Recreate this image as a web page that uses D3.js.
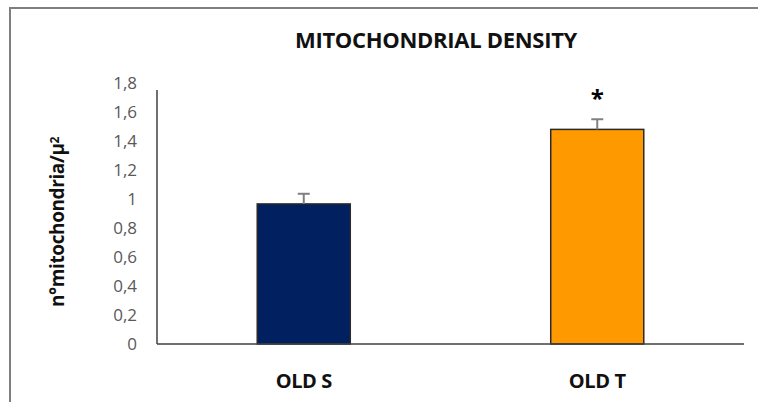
<!DOCTYPE html>
<html>
<head>
<meta charset="utf-8">
<style>
  body { margin: 0; background: #fff; }
  svg text { font-family: "Open Sans", "DejaVu Sans", sans-serif; }
</style>
</head>
<body>
<svg id="chart"></svg>
<script src="https://cdn.jsdelivr.net/npm/d3@7"></script>
<script>
// values
var groups = ["OLD S", "OLD T"];
var means = [0.966, 1.48];
var errors = [0.07, 0.07];
var colors = ["#002060", "#FF9900"];
var marks = ["", "*"];
var yTicks = [0, 0.2, 0.4, 0.6, 0.8, 1, 1.2, 1.4, 1.6, 1.8];

var width = 758, height = 402;
var svg = d3.select("#chart").attr("width", width).attr("height", height);

// outer frame (only top and left edges are visible in the crop)
svg.append("path")
  .attr("d", "M10,402 V8 H758")
  .attr("fill", "none")
  .attr("stroke", "#7f7f7f")
  .attr("stroke-width", 2);

var x = d3.scaleBand().domain(groups).range([157, 744]).paddingInner(0.683).paddingOuter(0.3415);
var y = d3.scaleLinear().domain([0, 1.8]).range([344, 83]);

// y tick labels
svg.append("g").selectAll("text")
  .data(yTicks).enter().append("text")
  .attr("x", 137)
  .attr("y", function(d) { return y(d); })
  .attr("dy", "0.35em")
  .attr("text-anchor", "end")
  .attr("fill", "#595959")
  .style("font-size", "17px")
  .text(function(d) { return String(d).replace(".", ","); });

// bars
svg.append("g").selectAll("rect")
  .data(means).enter().append("rect")
  .attr("x", function(d, i) { return x(groups[i]); })
  .attr("y", function(d) { return y(d); })
  .attr("width", x.bandwidth())
  .attr("height", function(d) { return y(0) - y(d); })
  .attr("fill", function(d, i) { return colors[i]; })
  .attr("stroke", "#2a2a2a")
  .attr("stroke-width", 1.5);

// error bars
var eb = svg.append("g").selectAll("g")
  .data(means).enter().append("g")
  .attr("stroke", "#808080")
  .attr("stroke-width", 2);
eb.append("line")
  .attr("x1", function(d, i) { return x(groups[i]) + x.bandwidth() / 2; })
  .attr("x2", function(d, i) { return x(groups[i]) + x.bandwidth() / 2; })
  .attr("y1", function(d) { return y(d); })
  .attr("y2", function(d, i) { return y(d + errors[i]); });
eb.append("line")
  .attr("x1", function(d, i) { return x(groups[i]) + x.bandwidth() / 2 - 6; })
  .attr("x2", function(d, i) { return x(groups[i]) + x.bandwidth() / 2 + 6; })
  .attr("y1", function(d, i) { return y(d + errors[i]); })
  .attr("y2", function(d, i) { return y(d + errors[i]); });

// significance mark
svg.append("g").selectAll("text")
  .data(marks).enter().append("text")
  .attr("x", function(d, i) { return x(groups[i]) + x.bandwidth() / 2; })
  .attr("y", function(d, i) { return y(means[i] + errors[i]) - 12; })
  .attr("text-anchor", "middle")
  .attr("font-weight", "bold")
  .style("font-size", "24px")
  .text(function(d) { return d; });

// axes lines
svg.append("line")
  .attr("x1", 157).attr("x2", 157)
  .attr("y1", y(0)).attr("y2", 90)
  .attr("stroke", "#404040").attr("stroke-width", 1.5);
svg.append("line")
  .attr("x1", 157).attr("x2", 744)
  .attr("y1", y(0)).attr("y2", y(0))
  .attr("stroke", "#404040").attr("stroke-width", 1.5);

// category labels
svg.append("g").selectAll("text")
  .data(groups).enter().append("text")
  .attr("x", function(d) { return x(d) + x.bandwidth() / 2; })
  .attr("y", 388)
  .attr("text-anchor", "middle")
  .attr("font-weight", "bold")
  .style("font-size", "20px")
  .style("letter-spacing", "-0.4px")
  .attr("fill", "#111")
  .text(function(d) { return d; });

// title
svg.append("text")
  .attr("x", 436).attr("y", 48)
  .attr("text-anchor", "middle")
  .attr("font-weight", "bold")
  .style("font-size", "22px")
  .style("letter-spacing", "-0.3px")
  .attr("fill", "#111")
  .text("MITOCHONDRIAL DENSITY");

// y axis title
var yt = svg.append("text")
  .attr("transform", "translate(64,222) rotate(-90)")
  .attr("text-anchor", "middle")
  .attr("font-weight", "bold")
  .style("font-size", "19px")
  .style("letter-spacing", "-0.4px")
  .attr("fill", "#111");
yt.append("tspan").text("n°mitochondria/µ");
yt.append("tspan").attr("dy", "-0.45em").style("font-size", "12px").text("2");
</script>
</body>
</html>
